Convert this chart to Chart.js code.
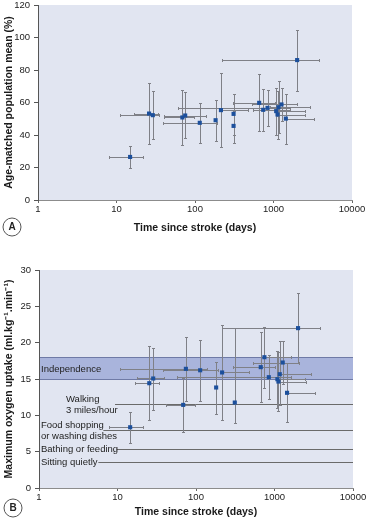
<!DOCTYPE html>
<html>
<head>
<meta charset="utf-8">
<script src="https://cdn.jsdelivr.net/npm/chart.js@4.4.1/dist/chart.umd.min.js"></script>
<style>
  html, body { margin: 0; padding: 0; background: #fff; }
  canvas { display: block; }
</style>
</head>
<body>
<canvas id="chartA" width="367" height="260"></canvas>
<canvas id="chartB" width="367" height="261"></canvas>
<script>
// Panel A - fitness as % of age-matched population mean
const daysA     = [14.9, 26, 29, 69, 75, 115, 183, 214, 310, 310, 657, 739, 839, 1082, 1125, 1158, 1265, 1436, 2000];
const daysLowA  = [8.1, 16.9, 11.2, 40.8, 40, 39.6, null, null, null, null, 301, 545, 60, 1040, 1100, 900, 540, null, 218];
const daysHighA = [21.6, 34.2, 35, 98, 140, 188, null, 476, null, null, 1040, 1600, 1640, 2500, 2500, 2900, 2000, 3258, 3810];
const pctA      = [26.5, 53.2, 52.2, 50.8, 52.0, 47.5, 49.1, 55.3, 53.0, 45.6, 59.8, 55.5, 56.7, 54.7, 52.6, 57.1, 58.8, 50.1, 86.1];
const pctLowA   = [19.9, 34.5, 37.4, 34.1, 38.2, 35.1, 36.2, 32.7, 40.3, 35.0, 42.3, 42.3, 45.8, 39.7, 37.6, 41.3, 48.5, 34.7, 67.2];
const pctHighA  = [33.1, 72.1, 67.0, 67.4, 66.2, 59.8, 61.6, 77.9, 65.3, 55.0, 77.3, 68.6, 68.0, 69.0, 67.0, 73.1, 69.0, 65.5, 104.5];

// Panel B - peak oxygen uptake (ml/kg/min)
const daysB     = [14.5, 25.4, 28.5, 68.7, 74.3, 113, 180.6, 215, 312, 668, 744, 846, 1088, 1122, 1167, 1273, 1445, 1995];
const daysLowB  = [7.85, 16.7, 17.7, 41, 10.7, 38, null, null, null, 297, null, 57, 1050, 1110, 1140, 530, null, 215];
const daysHighB = [21.3, 34, 39.4, 97, 139, 191, null, 473, null, 1028, 1610, 1640, 2480, 2540, 2900, 2030, 3290, 3770];
const vo2B      = [8.36, 14.42, 15.07, 11.44, 16.4, 16.2, 13.83, 15.9, 11.76, 16.63, 18.0, 15.25, 14.97, 14.65, 15.66, 17.27, 13.1, 22.0];
const vo2LowB   = [6.25, 9.3, 10.8, 7.76, 12.0, 11.94, 10.2, 9.37, 8.9, 11.8, 13.7, 12.2, 11.07, 10.6, 11.4, 14.3, 9.14, 17.2];
const vo2HighB  = [10.4, 19.6, 19.3, 15.1, 20.76, 20.3, 17.4, 22.4, 22.0, 21.45, 22.2, 18.3, 18.9, 18.7, 20.2, 20.25, 17.2, 26.8];

// Reference activity levels on panel B
const independenceRange = [15, 18];
const activityLabels = [['Walking', '3 miles/hour'], ['Food shopping', 'or washing dishes'], ['Bathing or feeding'], ['Sitting quietly']];
const activityValues = [11.5, 8.0, 5.3, 3.55];
const activityFrom   = [9.3, 6.6, 9.7, 5.7];

const xTicks = [1, 10, 100, 1000, 10000];

const FONT = 'Liberation Sans, Arial, Helvetica, sans-serif';
const plotBg = '#e1e5f1';
const pointColor = '#1c4f9c';
const barColor = '#7f8087';

const decor = {
  id: 'decor',
  beforeDraw(chart, args, opts) {
    const { ctx, chartArea: a, scales: { x, y } } = chart;
    ctx.save();
    ctx.fillStyle = plotBg;
    ctx.fillRect(a.left, a.top, a.right - a.left, a.bottom - a.top);

    if (opts.band) {
      const yTop = Math.round(y.getPixelForValue(opts.band[1])) + 0.5;
      const yBot = Math.round(y.getPixelForValue(opts.band[0])) + 0.5;
      ctx.fillStyle = '#a9b4dc';
      ctx.fillRect(a.left, yTop, a.right - a.left, yBot - yTop);
      ctx.strokeStyle = '#6f7aa6';
      ctx.lineWidth = 1;
      ctx.beginPath();
      ctx.moveTo(a.left, yTop); ctx.lineTo(a.right, yTop);
      ctx.moveTo(a.left, yBot); ctx.lineTo(a.right, yBot);
      ctx.stroke();
      ctx.fillStyle = '#222';
      ctx.font = '9.5px ' + FONT;
      ctx.textBaseline = 'middle';
      ctx.fillText('Independence', a.left + 2, (yTop + yBot) / 2 + 0.5);
    }

    if (opts.activities) {
      ctx.font = '9.5px ' + FONT;
      ctx.textBaseline = 'middle';
      activityValues.forEach((v, i) => {
        const py = Math.round(y.getPixelForValue(v)) + 0.5;
        const px = x.getPixelForValue(activityFrom[i]);
        ctx.strokeStyle = '#6a6a6a';
        ctx.lineWidth = 1;
        ctx.beginPath();
        ctx.moveTo(px, py); ctx.lineTo(a.right, py);
        ctx.stroke();
        const lines = activityLabels[i];
        const indent = i === 0 ? 27 : 2;
        const lh = 11;
        ctx.fillStyle = '#222';
        lines.forEach((t, k) => {
          ctx.fillText(t, a.left + indent, py + (k - (lines.length - 1) / 2) * lh);
        });
      });
    }
    ctx.restore();
  },
  beforeDatasetsDraw(chart) {
    const { ctx, scales: { x, y } } = chart;
    chart.data.datasets.forEach((ds, di) => {
      const meta = chart.getDatasetMeta(di);
      ctx.save();
      ctx.strokeStyle = barColor;
      ctx.lineWidth = 1;
      meta.data.forEach((pt, i) => {
        const px = Math.round(pt.x) + 0.5;
        const py = Math.round(pt.y) + 0.5;
        const cap = 1.5;
        ctx.beginPath();
        if (ds.xLow[i] != null) {
          const xl = Math.round(x.getPixelForValue(ds.xLow[i])) + 0.5;
          ctx.moveTo(px, py); ctx.lineTo(xl, py);
          ctx.moveTo(xl, py - cap); ctx.lineTo(xl, py + cap);
        }
        if (ds.xHigh[i] != null) {
          const xh = Math.round(x.getPixelForValue(ds.xHigh[i])) + 0.5;
          ctx.moveTo(px, py); ctx.lineTo(xh, py);
          ctx.moveTo(xh, py - cap); ctx.lineTo(xh, py + cap);
        }
        const yl = Math.round(y.getPixelForValue(ds.yLow[i])) + 0.5;
        const yh = Math.round(y.getPixelForValue(ds.yHigh[i])) + 0.5;
        ctx.moveTo(px, yl); ctx.lineTo(px, yh);
        ctx.moveTo(px - cap, yl); ctx.lineTo(px + cap, yl);
        ctx.moveTo(px - cap, yh); ctx.lineTo(px + cap, yh);
        ctx.stroke();
      });
      ctx.restore();
    });
  },
  afterDraw(chart, args, opts) {
    if (!opts.letter) return;
    const { ctx } = chart;
    ctx.save();
    ctx.strokeStyle = '#555';
    ctx.lineWidth = 1;
    ctx.beginPath();
    ctx.arc(opts.letter.x, opts.letter.y, 9, 0, Math.PI * 2);
    ctx.stroke();
    ctx.fillStyle = '#222';
    ctx.font = 'bold 10px ' + FONT;
    ctx.textAlign = 'center';
    ctx.textBaseline = 'middle';
    ctx.fillText(opts.letter.text, opts.letter.x, opts.letter.y + 0.5);
    ctx.restore();
  }
};

function makeChart(id, cfg) {
  const points = cfg.days.map((d, i) => ({ x: d, y: cfg.values[i] }));
  return new Chart(document.getElementById(id), {
    type: 'scatter',
    data: {
      datasets: [{
        data: points,
        xLow: cfg.daysLow,
        xHigh: cfg.daysHigh,
        yLow: cfg.low,
        yHigh: cfg.high,
        pointStyle: 'rect',
        pointRadius: 2.9,
        backgroundColor: pointColor,
        borderColor: pointColor,
        borderWidth: 0
      }]
    },
    options: {
      responsive: false,
      animation: false,
      devicePixelRatio: 1,
      layout: { padding: cfg.padding },
      plugins: {
        legend: { display: false },
        tooltip: { enabled: false },
        decor: cfg.decor
      },
      scales: {
        x: {
          type: 'logarithmic',
          min: 1,
          max: 10000,
          afterBuildTicks: s => { s.ticks = xTicks.map(v => ({ value: v })); },
          ticks: {
            color: '#222',
            font: { family: FONT, size: 9.5 },
            padding: 1,
            maxRotation: 0,
            autoSkip: false,
            callback: v => String(v)
          },
          grid: { drawOnChartArea: false, tickLength: 3, color: '#666' },
          border: { color: '#8c8c8c' },
          title: {
            display: true,
            text: 'Time since stroke (days)',
            color: '#1a1a1a',
            font: { family: FONT, size: 10.5, weight: 'bold' },
            padding: 0
          },
          afterFit: s => { s.height = cfg.xHeight; s.paddingLeft = 0; s.paddingRight = 0; }
        },
        y: {
          min: 0,
          max: cfg.yMax,
          ticks: {
            stepSize: cfg.yStep,
            color: '#222',
            font: { family: FONT, size: 9.5 },
            padding: 4
          },
          grid: { drawOnChartArea: false, tickLength: 4, color: '#555' },
          border: { color: '#555' },
          title: {
            display: true,
            text: cfg.yTitle,
            color: '#1a1a1a',
            font: { family: FONT, size: 10.5, weight: 'bold' },
            padding: { top: 3, bottom: 0 }
          },
          afterFit: s => { s.width = cfg.yWidth; s.paddingTop = 0; s.paddingBottom = 0; }
        }
      }
    },
    plugins: [decor]
  });
}

makeChart('chartA', {
  days: daysA, daysLow: daysLowA, daysHigh: daysHighA,
  values: pctA, low: pctLowA, high: pctHighA,
  yMax: 120, yStep: 20,
  yTitle: 'Age-matched population mean (%)',
  yWidth: 38, xHeight: 34,
  padding: { top: 5, right: 15, bottom: 26, left: 0 },
  decor: { letter: { text: 'A', x: 12, y: 227 } }
});

makeChart('chartB', {
  days: daysB, daysLow: daysLowB, daysHigh: daysHighB,
  values: vo2B, low: vo2LowB, high: vo2HighB,
  yMax: 30, yStep: 5,
  yTitle: 'Maximum oxygen uptake (ml.kg⁻¹.min⁻¹)',
  yWidth: 39, xHeight: 30,
  padding: { top: 10, right: 14, bottom: 3, left: 0 },
  decor: { band: independenceRange, activities: true, letter: { text: 'B', x: 13, y: 248 } }
});
</script>
</body>
</html>
